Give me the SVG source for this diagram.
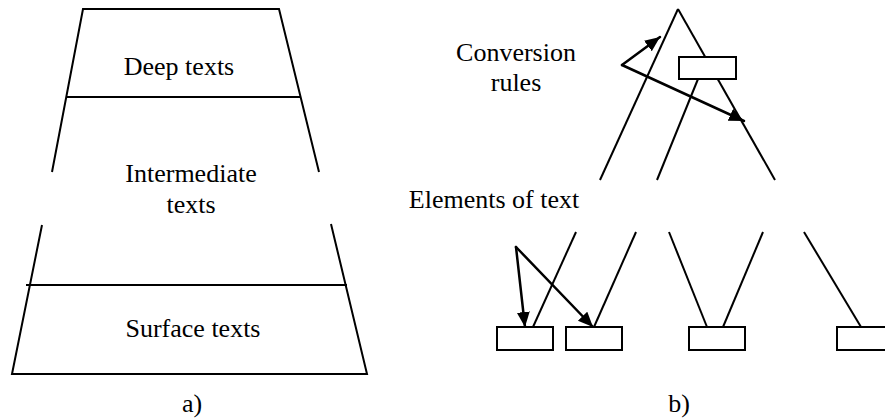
<svg xmlns="http://www.w3.org/2000/svg" width="885" height="419" viewBox="0 0 885 419">
<defs>
<marker id="ah" markerUnits="userSpaceOnUse" markerWidth="16" markerHeight="14" refX="15" refY="6.5" orient="auto" viewBox="0 0 16 14">
<path d="M0,0 L15,6.5 L0,13 Z" fill="#000"/>
</marker>
</defs>
<rect width="885" height="419" fill="#fff"/>
<g id="part-a" stroke="#000" stroke-width="2" fill="none">
<g id="deep-texts">
<path d="M52,172 L83,9 L279,9 L319,172"/>
<line x1="67" y1="97" x2="301" y2="97"/>
</g>
<g id="surface-texts">
<path d="M42,225 L12,374 L367,374 L331,224"/>
<line x1="26" y1="285" x2="347" y2="285"/>
</g>
</g>
<g id="connectors" stroke="#000" stroke-width="2" fill="none">
<line x1="678" y1="9" x2="600" y2="180"/>
<line x1="678" y1="9" x2="775" y2="180"/>
<line x1="698" y1="79" x2="657" y2="180"/>
<line x1="576" y1="232" x2="533" y2="327"/>
<line x1="636" y1="232" x2="594" y2="327"/>
<line x1="669" y1="232" x2="707" y2="327"/>
<line x1="763" y1="232" x2="723" y2="327"/>
<line x1="804" y1="232" x2="861" y2="327"/>
<g stroke-width="2.5" stroke-linecap="round">
<line x1="622" y1="65" x2="660" y2="37" marker-end="url(#ah)"/>
<line x1="622" y1="65" x2="744" y2="121" marker-end="url(#ah)"/>
<line x1="516" y1="247" x2="525" y2="327" marker-end="url(#ah)"/>
<line x1="516" y1="247" x2="593" y2="327" marker-end="url(#ah)"/>
</g>
</g>
<g id="boxes" stroke="#000" stroke-width="2" fill="#fff">
<rect id="rule-box" x="679" y="57" width="57" height="22"/>
<rect id="elem-1" x="497" y="327" width="56" height="23"/>
<rect id="elem-2" x="566" y="327" width="56" height="23"/>
<rect id="elem-3" x="689" y="327" width="56" height="23"/>
<rect id="elem-4" x="837" y="327" width="56" height="23"/>
</g>
<g id="labels" font-family="Liberation Serif" font-size="26" fill="#000" text-anchor="middle">
<text x="179" y="75">Deep texts</text>
<text x="191" y="182">Intermediate</text>
<text x="191" y="213">texts</text>
<text x="193" y="337">Surface texts</text>
<text x="192" y="412">a)</text>
<text x="516" y="61">Conversion</text>
<text x="516" y="91">rules</text>
<text x="494" y="208">Elements of text</text>
<text x="679" y="412">b)</text>
</g>
</svg>
